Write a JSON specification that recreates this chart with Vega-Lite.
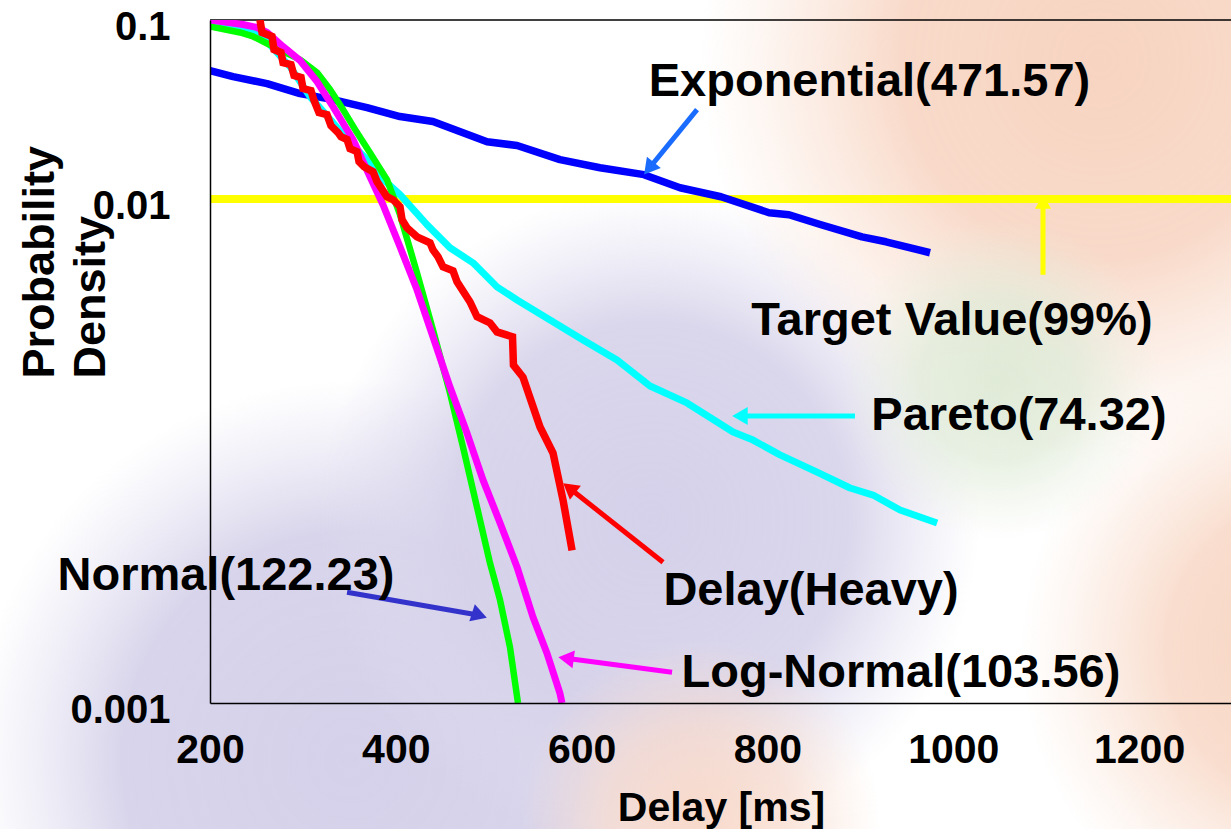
{
  "$schema": "https://vega.github.io/schema/vega-lite/v6.json",
  "width": 1022,
  "height": 683,
  "autosize": {"type": "none"},
  "padding": {"left": 210, "top": 20, "right": 0, "bottom": 126},
  "background": "white",
  "config": {
    "view": {"stroke": null, "fill": null},
    "font": "Liberation Sans"
  },
  "datasets": {
    "curves": [
      {"series": "Exponential", "ms": 200, "p": 0.0522},
      {"series": "Exponential", "ms": 224.8, "p": 0.0483},
      {"series": "Exponential", "ms": 261.4, "p": 0.0441},
      {"series": "Exponential", "ms": 296.9, "p": 0.0388},
      {"series": "Exponential", "ms": 332.4, "p": 0.0359},
      {"series": "Exponential", "ms": 369, "p": 0.0324},
      {"series": "Exponential", "ms": 404.5, "p": 0.0289},
      {"series": "Exponential", "ms": 440, "p": 0.0271},
      {"series": "Exponential", "ms": 498.2, "p": 0.0209},
      {"series": "Exponential", "ms": 530.5, "p": 0.0199},
      {"series": "Exponential", "ms": 576.7, "p": 0.0166},
      {"series": "Exponential", "ms": 619.8, "p": 0.01496},
      {"series": "Exponential", "ms": 667.1, "p": 0.01368},
      {"series": "Exponential", "ms": 705.9, "p": 0.01156},
      {"series": "Exponential", "ms": 750, "p": 0.0103},
      {"series": "Exponential", "ms": 801.7, "p": 0.00838},
      {"series": "Exponential", "ms": 823.2, "p": 0.00817},
      {"series": "Exponential", "ms": 857.7, "p": 0.00718},
      {"series": "Exponential", "ms": 901.8, "p": 0.00615},
      {"series": "Exponential", "ms": 927.6, "p": 0.00577},
      {"series": "Exponential", "ms": 975, "p": 0.00501},

      {"series": "Pareto", "ms": 200, "p": 0.0981},
      {"series": "Pareto", "ms": 243.1, "p": 0.0885},
      {"series": "Pareto", "ms": 261.4, "p": 0.0758},
      {"series": "Pareto", "ms": 286.1, "p": 0.0549},
      {"series": "Pareto", "ms": 307.6, "p": 0.0373},
      {"series": "Pareto", "ms": 332.4, "p": 0.0267},
      {"series": "Pareto", "ms": 350.7, "p": 0.0206},
      {"series": "Pareto", "ms": 369, "p": 0.0166},
      {"series": "Pareto", "ms": 383, "p": 0.01333},
      {"series": "Pareto", "ms": 404.5, "p": 0.01057},
      {"series": "Pareto", "ms": 433.6, "p": 0.00718},
      {"series": "Pareto", "ms": 458.3, "p": 0.00534},
      {"series": "Pareto", "ms": 483.1, "p": 0.0044},
      {"series": "Pareto", "ms": 508.9, "p": 0.00323},
      {"series": "Pareto", "ms": 530.5, "p": 0.00273},
      {"series": "Pareto", "ms": 566, "p": 0.00211},
      {"series": "Pareto", "ms": 601.5, "p": 0.00163},
      {"series": "Pareto", "ms": 638.1, "p": 0.00126},
      {"series": "Pareto", "ms": 673.6, "p": 0.000903},
      {"series": "Pareto", "ms": 713.4, "p": 0.000726},
      {"series": "Pareto", "ms": 763, "p": 0.0005},
      {"series": "Pareto", "ms": 784.5, "p": 0.00045},
      {"series": "Pareto", "ms": 813.5, "p": 0.000372},
      {"series": "Pareto", "ms": 853.4, "p": 0.000298},
      {"series": "Pareto", "ms": 888.9, "p": 0.000243},
      {"series": "Pareto", "ms": 913.7, "p": 0.000222},
      {"series": "Pareto", "ms": 942.7, "p": 0.000183},
      {"series": "Pareto", "ms": 982.6, "p": 0.000155},

      {"series": "Normal", "ms": 200, "p": 0.092},
      {"series": "Normal", "ms": 232.3, "p": 0.0852},
      {"series": "Normal", "ms": 246.3, "p": 0.0809},
      {"series": "Normal", "ms": 270, "p": 0.0702},
      {"series": "Normal", "ms": 296.9, "p": 0.0601},
      {"series": "Normal", "ms": 315.2, "p": 0.0509},
      {"series": "Normal", "ms": 329.2, "p": 0.0409},
      {"series": "Normal", "ms": 343.2, "p": 0.0316},
      {"series": "Normal", "ms": 358.2, "p": 0.0235},
      {"series": "Normal", "ms": 372.2, "p": 0.01815},
      {"series": "Normal", "ms": 390.5, "p": 0.01282},
      {"series": "Normal", "ms": 404.5, "p": 0.00817},
      {"series": "Normal", "ms": 422.8, "p": 0.00387},
      {"series": "Normal", "ms": 440, "p": 0.00186},
      {"series": "Normal", "ms": 458.3, "p": 0.000825},
      {"series": "Normal", "ms": 472.3, "p": 0.000412},
      {"series": "Normal", "ms": 487.4, "p": 0.00019},
      {"series": "Normal", "ms": 501.4, "p": 0.0000924},
      {"series": "Normal", "ms": 512.2, "p": 0.0000574},
      {"series": "Normal", "ms": 522.9, "p": 0.0000313},
      {"series": "Normal", "ms": 531.5, "p": 0.0000153},

      {"series": "Log-Normal", "ms": 200, "p": 0.1},
      {"series": "Log-Normal", "ms": 235.5, "p": 0.0944},
      {"series": "Log-Normal", "ms": 250.6, "p": 0.0908},
      {"series": "Log-Normal", "ms": 261.4, "p": 0.0852},
      {"series": "Log-Normal", "ms": 278.6, "p": 0.0711},
      {"series": "Log-Normal", "ms": 296.9, "p": 0.0594},
      {"series": "Log-Normal", "ms": 315.2, "p": 0.0453},
      {"series": "Log-Normal", "ms": 332.4, "p": 0.0328},
      {"series": "Log-Normal", "ms": 353.9, "p": 0.0215},
      {"series": "Log-Normal", "ms": 372.2, "p": 0.01333},
      {"series": "Log-Normal", "ms": 386.2, "p": 0.00929},
      {"series": "Log-Normal", "ms": 404.5, "p": 0.00541},
      {"series": "Log-Normal", "ms": 422.8, "p": 0.00311},
      {"series": "Log-Normal", "ms": 440, "p": 0.0017},
      {"series": "Log-Normal", "ms": 458.3, "p": 0.000891},
      {"series": "Log-Normal", "ms": 476.6, "p": 0.000493},
      {"series": "Log-Normal", "ms": 493.9, "p": 0.000269},
      {"series": "Log-Normal", "ms": 512.2, "p": 0.000155},
      {"series": "Log-Normal", "ms": 530.5, "p": 0.0000878},
      {"series": "Log-Normal", "ms": 547.7, "p": 0.0000461},
      {"series": "Log-Normal", "ms": 562.7, "p": 0.000029},
      {"series": "Log-Normal", "ms": 576.7, "p": 0.0000173},
      {"series": "Log-Normal", "ms": 578.9, "p": 0.0000153},

      {"series": "Delay(Heavy)", "ms": 253.8, "p": 0.1},
      {"series": "Delay(Heavy)", "ms": 256, "p": 0.0852},
      {"series": "Delay(Heavy)", "ms": 266.7, "p": 0.0809},
      {"series": "Delay(Heavy)", "ms": 268.9, "p": 0.0684},
      {"series": "Delay(Heavy)", "ms": 276.4, "p": 0.0658},
      {"series": "Delay(Heavy)", "ms": 278.6, "p": 0.0578},
      {"series": "Delay(Heavy)", "ms": 287.2, "p": 0.0564},
      {"series": "Delay(Heavy)", "ms": 290.4, "p": 0.049},
      {"series": "Delay(Heavy)", "ms": 298, "p": 0.0477},
      {"series": "Delay(Heavy)", "ms": 300.1, "p": 0.0414},
      {"series": "Delay(Heavy)", "ms": 308.7, "p": 0.0403},
      {"series": "Delay(Heavy)", "ms": 312, "p": 0.0355},
      {"series": "Delay(Heavy)", "ms": 317.3, "p": 0.0304},
      {"series": "Delay(Heavy)", "ms": 325.9, "p": 0.0296},
      {"series": "Delay(Heavy)", "ms": 330.2, "p": 0.0257},
      {"series": "Delay(Heavy)", "ms": 337.8, "p": 0.0235},
      {"series": "Delay(Heavy)", "ms": 341, "p": 0.0223},
      {"series": "Delay(Heavy)", "ms": 347.5, "p": 0.0215},
      {"series": "Delay(Heavy)", "ms": 350.7, "p": 0.0191},
      {"series": "Delay(Heavy)", "ms": 358.2, "p": 0.0184},
      {"series": "Delay(Heavy)", "ms": 360.4, "p": 0.01617},
      {"series": "Delay(Heavy)", "ms": 365.8, "p": 0.01516},
      {"series": "Delay(Heavy)", "ms": 375.5, "p": 0.01422},
      {"series": "Delay(Heavy)", "ms": 379.8, "p": 0.0125},
      {"series": "Delay(Heavy)", "ms": 390.5, "p": 0.0103},
      {"series": "Delay(Heavy)", "ms": 397, "p": 0.00991},
      {"series": "Delay(Heavy)", "ms": 404.5, "p": 0.00906},
      {"series": "Delay(Heavy)", "ms": 406.7, "p": 0.00766},
      {"series": "Delay(Heavy)", "ms": 412, "p": 0.00691},
      {"series": "Delay(Heavy)", "ms": 422.8, "p": 0.00615},
      {"series": "Delay(Heavy)", "ms": 436.8, "p": 0.0057},
      {"series": "Delay(Heavy)", "ms": 440, "p": 0.0052},
      {"series": "Delay(Heavy)", "ms": 445.4, "p": 0.00476},
      {"series": "Delay(Heavy)", "ms": 450.8, "p": 0.00418},
      {"series": "Delay(Heavy)", "ms": 461.6, "p": 0.00397},
      {"series": "Delay(Heavy)", "ms": 465.9, "p": 0.00345},
      {"series": "Delay(Heavy)", "ms": 479.9, "p": 0.00266},
      {"series": "Delay(Heavy)", "ms": 487.4, "p": 0.0022},
      {"series": "Delay(Heavy)", "ms": 501.4, "p": 0.00203},
      {"series": "Delay(Heavy)", "ms": 508.9, "p": 0.00181},
      {"series": "Delay(Heavy)", "ms": 525.6, "p": 0.0017},
      {"series": "Delay(Heavy)", "ms": 526.6, "p": 0.00118},
      {"series": "Delay(Heavy)", "ms": 536.9, "p": 0.00101},
      {"series": "Delay(Heavy)", "ms": 555.2, "p": 0.000533},
      {"series": "Delay(Heavy)", "ms": 569.2, "p": 0.000381},
      {"series": "Delay(Heavy)", "ms": 580, "p": 0.000208},
      {"series": "Delay(Heavy)", "ms": 589.7, "p": 0.000109}
    ],
    "labels": [
      {"text": "Exponential(471.57)", "ms": 909.8, "p": 0.0378},
      {"text": "Target Value(99%)", "ms": 998.6, "p": 0.001742},
      {"text": "Pareto(74.32)", "ms": 1070.7, "p": 0.000513},
      {"text": "Delay(Heavy)", "ms": 846.9, "p": 0.0000538},
      {"text": "Normal(122.23)", "ms": 217.2, "p": 0.0000653},
      {"text": "Log-Normal(103.56)", "ms": 943.7, "p": 0.00001873}
    ],
    "arrows": [
      {"arrow": "Exponential label", "ms": 724.2, "p": 0.0316, "hms": 672.5, "hp": 0.01481},
      {"arrow": "Target", "ms": 1096.6, "p": 0.003773, "hms": 1096.6, "hp": 0.00966},
      {"arrow": "Pareto", "ms": 894.2, "p": 0.000614, "hms": 770.4, "hp": 0.000614},
      {"arrow": "Delay(Heavy)", "ms": 687.6, "p": 0.0000936, "hms": 586.7, "hp": 0.000243},
      {"arrow": "Normal label", "ms": 347.5, "p": 0.0000636, "hms": 490, "hp": 0.0000473},
      {"arrow": "Log-Normal", "ms": 697.3, "p": 0.0000227, "hms": 583.2, "hp": 0.0000272}
    ],
    "target": [{"p": 0.01}],
    "swirl": [
      {"part": "lavender low", "ms": -58.3, "ms2": 759.7, "p": 0.0009745, "p2": 0.0000000553},
      {"part": "lavender mid", "ms": 318.4, "ms2": 1028.8, "p": 0.01123, "p2": 0.00000231},
      {"part": "peach top", "ms": 727.4, "ms2": 1588.5, "p": 10.26, "p2": 0.000348},
      {"part": "peach right", "ms": 1071.8, "ms2": 1717.6, "p": 0.001433, "p2": 0.000000637},
      {"part": "peach bottom", "ms": 533.7, "ms2": 921.1, "p": 0.0000344, "p2": 0.000000335},
      {"part": "green arc", "ms": 878.1, "ms2": 1222.5, "p": 0.00763, "p2": 0.0001245}
    ]
  },
  "encoding": {
    "x": {"field": "ms", "type": "quantitative",
      "scale": {"domain": [200, 1300], "nice": false, "zero": false},
      "axis": {"values": [200, 400, 600, 800, 1000, 1200], "format": "d", "title": "Delay [ms]", "zindex": 1,
        "grid": false, "ticks": false, "domain": true, "domainColor": "black", "domainWidth": 1.5, "labelFlush": false,
        "labelFont": "Liberation Sans", "labelFontSize": 41, "labelFontWeight": "bold", "labelColor": "black",
        "labelPadding": 27, "labelOverlap": false,
        "titleFont": "Liberation Sans", "titleFontSize": 41, "titleFontWeight": "bold", "titleColor": "black",
        "titleBaseline": "alphabetic", "titleY": 117}},
    "y": {"field": "p", "type": "quantitative",
      "scale": {"type": "log", "domain": [0.0000153, 0.1], "nice": false},
      "axis": {"values": [0.1, 0.01, 0.0000153], "title": ["Probability", "Density"], "zindex": 1,
        "labelExpr": "datum.value > 0.05 ? '0.1' : (datum.value > 0.005 ? '0.01' : '0.001')",
        "grid": false, "ticks": false, "domain": true, "domainColor": "black", "domainWidth": 1.5, "labelOverlap": false,
        "labelFont": "Liberation Sans", "labelFontSize": 40, "labelFontWeight": "bold", "labelColor": "black",
        "labelPadding": 40, "labelOffset": 7, "labelBaseline": "middle",
        "titleFont": "Liberation Sans", "titleFontSize": 45, "titleFontWeight": "bold", "titleColor": "black",
        "titleAngle": -90, "titleAlign": "left", "titleBaseline": "alphabetic", "titleLineHeight": 51,
        "titleX": -157, "titleY": 358}}
  },
  "layer": [
    {
      "data": {"name": "swirl"},
      "transform": [{"filter": "datum.part === 'lavender low'"}],
      "mark": {"type": "rect", "clip": false, "fill": {"gradient": "radial", "x1": 0.5, "y1": 0.5, "r1": 0, "x2": 0.5, "y2": 0.5, "r2": 0.5,
        "stops": [{"offset": 0, "color": "rgba(213,209,234,1)"}, {"offset": 0.6, "color": "rgba(214,210,234,0.95)"}, {"offset": 1, "color": "rgba(225,222,240,0)"}]}},
      "encoding": {"x2": {"field": "ms2"}, "y2": {"field": "p2"}}
    },
    {
      "data": {"name": "swirl"},
      "transform": [{"filter": "datum.part === 'lavender mid'"}],
      "mark": {"type": "rect", "clip": false, "fill": {"gradient": "radial", "x1": 0.5, "y1": 0.5, "r1": 0, "x2": 0.5, "y2": 0.5, "r2": 0.5,
        "stops": [{"offset": 0, "color": "rgba(213,209,234,1)"}, {"offset": 0.6, "color": "rgba(214,210,234,0.9)"}, {"offset": 1, "color": "rgba(225,222,240,0)"}]}},
      "encoding": {"x2": {"field": "ms2"}, "y2": {"field": "p2"}}
    },
    {
      "data": {"name": "swirl"},
      "transform": [{"filter": "datum.part === 'peach top'"}],
      "mark": {"type": "rect", "clip": false, "fill": {"gradient": "radial", "x1": 0.5, "y1": 0.5, "r1": 0, "x2": 0.5, "y2": 0.5, "r2": 0.5,
        "stops": [{"offset": 0, "color": "rgba(247,212,193,1)"}, {"offset": 0.5, "color": "rgba(248,214,196,0.9)"}, {"offset": 1, "color": "rgba(250,225,210,0)"}]}},
      "encoding": {"x2": {"field": "ms2"}, "y2": {"field": "p2"}}
    },
    {
      "data": {"name": "swirl"},
      "transform": [{"filter": "datum.part === 'peach right'"}],
      "mark": {"type": "rect", "clip": false, "fill": {"gradient": "radial", "x1": 0.5, "y1": 0.5, "r1": 0, "x2": 0.5, "y2": 0.5, "r2": 0.5,
        "stops": [{"offset": 0, "color": "rgba(247,212,193,1)"}, {"offset": 0.5, "color": "rgba(248,215,197,0.85)"}, {"offset": 1, "color": "rgba(250,225,210,0)"}]}},
      "encoding": {"x2": {"field": "ms2"}, "y2": {"field": "p2"}}
    },
    {
      "data": {"name": "swirl"},
      "transform": [{"filter": "datum.part === 'peach bottom'"}],
      "mark": {"type": "rect", "clip": false, "fill": {"gradient": "radial", "x1": 0.5, "y1": 0.5, "r1": 0, "x2": 0.5, "y2": 0.5, "r2": 0.5,
        "stops": [{"offset": 0, "color": "rgba(248,216,200,0.95)"}, {"offset": 0.5, "color": "rgba(248,218,204,0.7)"}, {"offset": 1, "color": "rgba(250,225,210,0)"}]}},
      "encoding": {"x2": {"field": "ms2"}, "y2": {"field": "p2"}}
    },
    {
      "data": {"name": "swirl"},
      "transform": [{"filter": "datum.part === 'green arc'"}],
      "mark": {"type": "rect", "clip": false, "fill": {"gradient": "radial", "x1": 0.5, "y1": 0.5, "r1": 0, "x2": 0.5, "y2": 0.5, "r2": 0.5,
        "stops": [{"offset": 0, "color": "rgba(220,233,212,0.9)"}, {"offset": 0.5, "color": "rgba(222,234,214,0.7)"}, {"offset": 1, "color": "rgba(230,238,222,0)"}]}},
      "encoding": {"x2": {"field": "ms2"}, "y2": {"field": "p2"}}
    },
    {
      "data": {"name": "target"},
      "mark": {"type": "rule", "strokeWidth": 1.5, "color": "black"},
      "encoding": {"x": null, "y": {"datum": 0.1, "type": "quantitative"}}
    },
    {
      "data": {"name": "target"},
      "mark": {"type": "rule", "strokeWidth": 8, "color": "#FFFF00"},
      "encoding": {"x": null, "y": {"field": "p", "type": "quantitative"}}
    },
    {
      "data": {"name": "curves"},
      "transform": [{"filter": "datum.series === 'Exponential'"}],
      "mark": {"type": "line", "color": "#0000FF", "strokeWidth": 7.5, "clip": true, "strokeJoin": "round"}
    },
    {
      "data": {"name": "curves"},
      "transform": [{"filter": "datum.series === 'Pareto'"}],
      "mark": {"type": "line", "color": "#00FFFF", "strokeWidth": 7, "clip": true, "strokeJoin": "round"}
    },
    {
      "data": {"name": "curves"},
      "transform": [{"filter": "datum.series === 'Normal'"}],
      "mark": {"type": "line", "color": "#00FF00", "strokeWidth": 6.5, "clip": true, "strokeJoin": "round"}
    },
    {
      "data": {"name": "curves"},
      "transform": [{"filter": "datum.series === 'Log-Normal'"}],
      "mark": {"type": "line", "color": "#FF00FF", "strokeWidth": 7, "clip": true, "strokeJoin": "round"}
    },
    {
      "data": {"name": "curves"},
      "transform": [{"filter": "datum.series === 'Delay(Heavy)'"}],
      "mark": {"type": "line", "color": "#FF0000", "strokeWidth": 7.5, "clip": true, "strokeJoin": "miter"}
    },
    {
      "data": {"name": "arrows"},
      "mark": {"type": "rule", "strokeWidth": 5},
      "encoding": {
        "x2": {"field": "hms"},
        "y2": {"field": "hp"},
        "color": {"field": "arrow", "type": "nominal", "legend": null,
          "scale": {"domain": ["Exponential label", "Target", "Pareto", "Delay(Heavy)", "Normal label", "Log-Normal"],
            "range": ["#1A6CFF", "#FFFF00", "#00FFFF", "#FF0000", "#3333CC", "#FF00FF"]}}
      }
    },
    {
      "data": {"name": "arrows"},
      "transform": [{"filter": "datum.arrow === 'Exponential label'"}],
      "mark": {"type": "point", "shape": "triangle-up", "filled": true, "size": 320, "angle": 219, "opacity": 1},
      "encoding": {"x": {"field": "hms", "type": "quantitative"}, "y": {"field": "hp", "type": "quantitative"},
        "color": {"field": "arrow", "type": "nominal", "legend": null}}
    },
    {
      "data": {"name": "arrows"},
      "transform": [{"filter": "datum.arrow === 'Target'"}],
      "mark": {"type": "point", "shape": "triangle-up", "filled": true, "size": 260, "angle": 0, "opacity": 1},
      "encoding": {"x": {"field": "hms", "type": "quantitative"}, "y": {"field": "hp", "type": "quantitative"},
        "color": {"field": "arrow", "type": "nominal", "legend": null}}
    },
    {
      "data": {"name": "arrows"},
      "transform": [{"filter": "datum.arrow === 'Pareto'"}],
      "mark": {"type": "point", "shape": "triangle-up", "filled": true, "size": 320, "angle": 270, "opacity": 1},
      "encoding": {"x": {"field": "hms", "type": "quantitative"}, "y": {"field": "hp", "type": "quantitative"},
        "color": {"field": "arrow", "type": "nominal", "legend": null}}
    },
    {
      "data": {"name": "arrows"},
      "transform": [{"filter": "datum.arrow === 'Delay(Heavy)'"}],
      "mark": {"type": "point", "shape": "triangle-up", "filled": true, "size": 320, "angle": 308, "opacity": 1},
      "encoding": {"x": {"field": "hms", "type": "quantitative"}, "y": {"field": "hp", "type": "quantitative"},
        "color": {"field": "arrow", "type": "nominal", "legend": null}}
    },
    {
      "data": {"name": "arrows"},
      "transform": [{"filter": "datum.arrow === 'Normal label'"}],
      "mark": {"type": "point", "shape": "triangle-up", "filled": true, "size": 320, "angle": 108, "opacity": 1},
      "encoding": {"x": {"field": "hms", "type": "quantitative"}, "y": {"field": "hp", "type": "quantitative"},
        "color": {"field": "arrow", "type": "nominal", "legend": null}}
    },
    {
      "data": {"name": "arrows"},
      "transform": [{"filter": "datum.arrow === 'Log-Normal'"}],
      "mark": {"type": "point", "shape": "triangle-up", "filled": true, "size": 320, "angle": 277.5, "opacity": 1},
      "encoding": {"x": {"field": "hms", "type": "quantitative"}, "y": {"field": "hp", "type": "quantitative"},
        "color": {"field": "arrow", "type": "nominal", "legend": null}}
    },
    {
      "data": {"name": "labels"},
      "mark": {"type": "text", "font": "Liberation Sans", "fontSize": 47, "fontWeight": "bold", "color": "black",
        "align": "center", "baseline": "alphabetic"},
      "encoding": {"text": {"field": "text", "type": "nominal"}}
    }
  ]
}
